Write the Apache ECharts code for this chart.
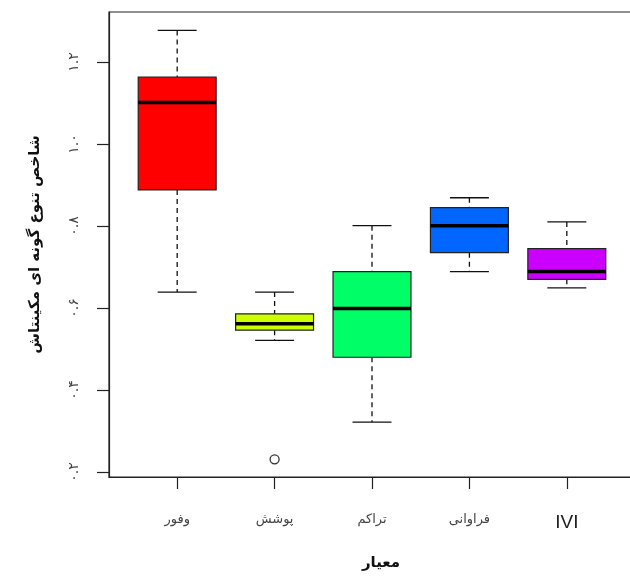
<!DOCTYPE html>
<html>
<head>
<meta charset="utf-8">
<style>html,body{margin:0;padding:0;background:#fff;}#chart{width:630px;height:576px;}</style>
<script src="https://cdn.jsdelivr.net/npm/echarts@6/dist/echarts.min.js"></script>
</head>
<body>
<div id="chart"></div>
<script>
// ---- data ----
const categories = ['وفور', 'پوشش', 'تراکم', 'فراوانی', 'IVI'];
const whiskerLow = [0.639, 0.521, 0.322, 0.689, 0.649];
const q1Values   = [0.888, 0.546, 0.480, 0.735, 0.670];
const medians    = [1.101, 0.562, 0.599, 0.801, 0.689];
const q3Values   = [1.163, 0.586, 0.689, 0.845, 0.745];
const whiskerHigh= [1.277, 0.639, 0.801, 0.869, 0.810];
const outliers   = [[2, 0.231]];
const yTickValues = [0.2, 0.4, 0.6, 0.8, 1.0, 1.2];
const yTickLabels = ['۰.۲', '۰.۴', '۰.۶', '۰.۸', '۱.۰', '۱.۲'];
const xTickValues = [1, 2, 3, 4, 5];
const yTitle = 'شاخص تنوع گونه ای مکینتاش';
const xTitle = 'معیار';

// ---- styles ----
const boxColors = ['#FF0000', '#CCFF00', '#00FF66', '#0066FF', '#CC00FF'];
const FA = 'DejaVu Sans';

const boxData = categories.map((c, i) => [xTickValues[i], whiskerLow[i], q1Values[i], medians[i], q3Values[i], whiskerHigh[i]]);

const chart = echarts.init(document.getElementById('chart'), null, {renderer: 'canvas'});

const dashStyle = {stroke: '#111', lineWidth: 1.3, lineDash: [5, 4]};
const solidStyle = {stroke: '#111', lineWidth: 1.3};

chart.setOption({
  animation: false,
  backgroundColor: '#fff',
  grid: {left: 109, top: 12, width: 526, height: 465, outerBoundsMode: 'none', containLabel: false,
         show: true, borderColor: '#222', borderWidth: 1.2, backgroundColor: 'transparent'},
  xAxis: {
    type: 'value', min: 0.3, max: 5.7,
    splitLine: {show: false},
    axisLine: {show: true, lineStyle: {color: '#222', width: 1.2}},
    axisTick: {show: true, length: 12, lineStyle: {color: '#222', width: 1.2}, customValues: xTickValues},
    axisLabel: {
      customValues: xTickValues, margin: 36,
      formatter: v => {
        const t = categories[Math.round(v) - 1] || '';
        return /^[A-Za-z]+$/.test(t) ? '{lat|' + t + '}' : '{fa|' + t + '}';
      },
      rich: {
        fa: {fontFamily: FA, fontSize: 13, color: '#444'},
        lat: {fontFamily: 'Liberation Sans', fontSize: 19, color: '#222'}
      }
    }
  },
  yAxis: {
    type: 'value', min: 0.188, max: 1.322,
    splitLine: {show: false},
    axisLine: {show: true, lineStyle: {color: '#222', width: 1.2}},
    axisTick: {show: true, length: 12, lineStyle: {color: '#222', width: 1.2}, customValues: yTickValues},
    axisLabel: {
      customValues: yTickValues, rotate: 90, margin: 28,
      fontFamily: FA, fontSize: 14, color: '#444',
      formatter: v => {
        const i = yTickValues.findIndex(t => Math.abs(t - v) < 1e-6);
        return i >= 0 ? yTickLabels[i] : '';
      }
    },
    name: yTitle, nameLocation: 'middle', nameGap: 66, nameRotate: 90,
    nameTextStyle: {fontFamily: FA, fontSize: 15, fontWeight: 'bold', color: '#111'}
  },
  graphic: [{
    type: 'text', x: 381, y: 563,
    style: {text: xTitle, fontFamily: FA, fontSize: 15, fontWeight: 'bold', fill: '#111',
            textAlign: 'center', textVerticalAlign: 'middle'}
  }],
  series: [{
    type: 'custom',
    data: boxData,
    encode: {x: 0, y: [1, 2, 3, 4, 5]},
    renderItem: (params, api) => {
      const x = api.value(0);
      const lo = api.coord([x, api.value(1)]);
      const q1 = api.coord([x, api.value(2)]);
      const med = api.coord([x, api.value(3)]);
      const q3 = api.coord([x, api.value(4)]);
      const hi = api.coord([x, api.value(5)]);
      const w = api.size([0.8, 0])[0];
      const cw = api.size([0.4, 0])[0];
      const cx = q1[0];
      return {
        type: 'group',
        children: [
          {type: 'line', shape: {x1: cx, y1: hi[1], x2: cx, y2: q3[1]}, style: dashStyle},
          {type: 'line', shape: {x1: cx, y1: q1[1], x2: cx, y2: lo[1]}, style: dashStyle},
          {type: 'line', shape: {x1: cx - cw / 2, y1: hi[1], x2: cx + cw / 2, y2: hi[1]}, style: solidStyle},
          {type: 'line', shape: {x1: cx - cw / 2, y1: lo[1], x2: cx + cw / 2, y2: lo[1]}, style: solidStyle},
          {type: 'rect', shape: {x: cx - w / 2, y: q3[1], width: w, height: q1[1] - q3[1]},
           style: {fill: boxColors[params.dataIndex], stroke: '#222', lineWidth: 1.2}},
          {type: 'line', shape: {x1: cx - w / 2, y1: med[1], x2: cx + w / 2, y2: med[1]},
           style: {stroke: '#000', lineWidth: 3.5}}
        ]
      };
    }
  }, {
    type: 'scatter',
    data: outliers,
    symbol: 'circle', symbolSize: 9,
    itemStyle: {color: '#fff', borderColor: '#000', borderWidth: 1.3}
  }]
});
</script>
</body>
</html>
